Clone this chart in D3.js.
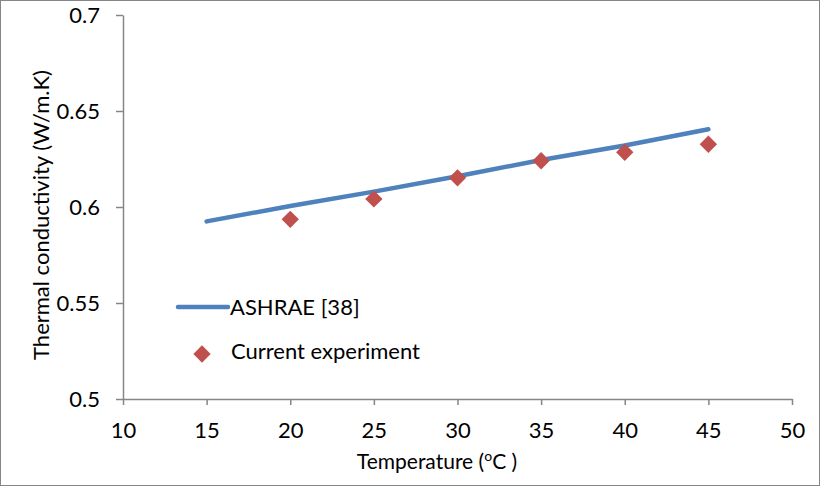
<!DOCTYPE html>
<html><head><meta charset="utf-8">
<script src="https://cdn.jsdelivr.net/npm/d3@7"></script>
<style>body{margin:0;background:#fff;} svg{display:block;font-family:Lato,"Open Sans",sans-serif;}</style>
</head><body>
<script>
const ashraeTemp = [15, 20, 25, 30, 35, 40, 45];
const ashraeK = [0.5925, 0.6005, 0.608, 0.616, 0.6245, 0.632, 0.6405];
const expTemp = [20, 25, 30, 35, 40, 45];
const expK = [0.5936, 0.6042, 0.6152, 0.6241, 0.6285, 0.6327];
const xTicks = [10, 15, 20, 25, 30, 35, 40, 45, 50];
const yTicks = [0.5, 0.55, 0.6, 0.65, 0.7];

const W = 820, H = 486;
const FS = 21;
const svg = d3.select("body").append("svg").attr("width", W).attr("height", H);
svg.append("rect").attr("x", 0.5).attr("y", 0.5).attr("width", W - 1).attr("height", H - 1)
  .attr("fill", "#fff").attr("stroke", "#868686");

const x = d3.scaleLinear().domain([10, 50]).range([123, 792]);
const y = d3.scaleLinear().domain([0.5, 0.7]).range([399, 15]);
const axisColor = "#868686";

const xa = svg.append("g").attr("transform", "translate(0,399)")
  .call(d3.axisBottom(x).tickValues(xTicks).tickSize(6).tickSizeOuter(0).tickPadding(17).tickFormat(d3.format("d")));
const ya = svg.append("g").attr("transform", "translate(123,0)")
  .call(d3.axisLeft(y).tickValues(yTicks).tickSize(7).tickSizeOuter(0).tickPadding(16).tickFormat(d => String(+d.toFixed(2))));
[xa, ya].forEach(g => {
  g.select(".domain").attr("stroke", axisColor).attr("stroke-width", 1.5);
  g.selectAll(".tick line").attr("stroke", axisColor).attr("stroke-width", 1.5);
  g.selectAll(".tick text").attr("fill", "#000").attr("font-size", 22).attr("font-family", "Lato, 'Open Sans', sans-serif");
});
xa.selectAll(".tick text").attr("dy", "0.71em");

const line = d3.line().x((d, i) => x(ashraeTemp[i])).y(d => y(d));
svg.append("path").datum(ashraeK).attr("d", line).attr("fill", "none")
  .attr("stroke", "#4F81BD").attr("stroke-width", 4.5).attr("stroke-linecap", "round");

const diamond = d3.symbol().type(d3.symbolSquare).size(150);
svg.selectAll(".pt").data(expK).enter().append("path")
  .attr("d", diamond)
  .attr("transform", (d, i) => `translate(${x(expTemp[i])},${y(d)}) rotate(45)`)
  .attr("fill", "#C0504D");

// legend
svg.append("line").attr("x1", 178).attr("x2", 228).attr("y1", 307).attr("y2", 307)
  .attr("stroke", "#4F81BD").attr("stroke-width", 4.5).attr("stroke-linecap", "round");
svg.append("text").attr("x", 230).attr("y", 315).attr("font-size", 22).text("ASHRAE [38]");
svg.append("path").attr("d", diamond).attr("transform", "translate(202,354) rotate(45)").attr("fill", "#C0504D");
svg.append("text").attr("x", 231).attr("y", 359).attr("font-size", 22).text("Current experiment");

// axis titles
const xt = svg.append("text").attr("x", 437).attr("y", 469).attr("text-anchor", "middle").attr("font-size", FS);
xt.append("tspan").text("Temperature (");
xt.append("tspan").attr("font-size", 14).attr("dy", -8).text("o");
xt.append("tspan").attr("dy", 8).text("C )");
svg.append("text").attr("transform", "translate(49,215) rotate(-90)").attr("text-anchor", "middle")
  .attr("font-size", 22).text("Thermal conductivity (W/m.K)");
</script>
</body></html>
